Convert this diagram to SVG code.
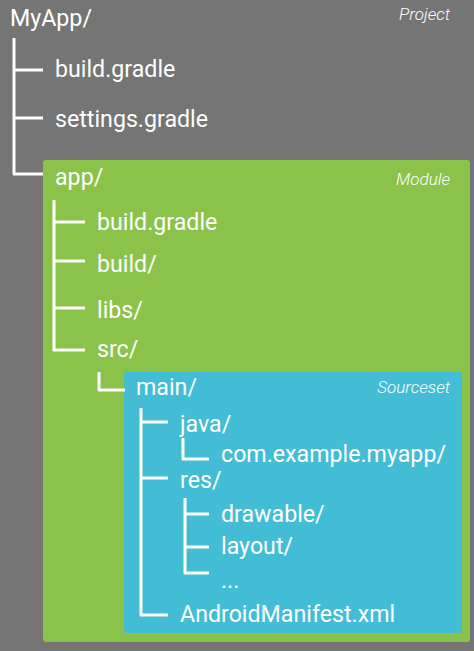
<svg xmlns="http://www.w3.org/2000/svg" width="474" height="651" viewBox="0 0 474 651">
<style>
.t{font-family:Roboto,"Liberation Sans",sans-serif;font-size:23.2px;fill:#fff}
.lbl{font-family:Roboto,"Liberation Sans",sans-serif;font-size:17px;font-style:italic;font-weight:300;fill:#fff;text-anchor:end}
.c{fill:none;stroke:#fff;stroke-width:3;stroke-linejoin:round;stroke-linecap:butt}
</style>
<rect id="bg" x="0" y="0" width="474" height="651" fill="#757575"/>
<g id="module-box"><rect x="43" y="160" width="427" height="482" rx="3" fill="#8BC34A"/></g>
<g id="sourceset-box"><rect x="124" y="372" width="338" height="261" rx="3" fill="#42BDD5"/></g>
<g id="connectors">
<path class="c" d="M14 38V174H43M14 70H43M14 118H43"/>
<path class="c" d="M54 200V350H85M54 222H85M54 261H85M54 308H85"/>
<path class="c" d="M99 372V390H125"/>
<path class="c" d="M141 408V615H168M141 422H168M141 478H168"/>
<path class="c" d="M183 438V459H209"/>
<path class="c" d="M185 498V573H209M185 514H209M185 547H209"/>
</g>
<g id="n-myapp"><text class="t" x="10" y="26">MyApp/</text><text class="lbl" x="450" y="20">Project</text></g>
<g id="n-build-gradle"><text class="t" x="55" y="77">build.gradle</text></g>
<g id="n-settings"><text class="t" x="55" y="127">settings.gradle</text></g>
<g id="n-app"><text class="t" x="55" y="185">app/</text><text class="lbl" x="450" y="185">Module</text></g>
<g id="n-app-build-gradle"><text class="t" x="97" y="230">build.gradle</text></g>
<g id="n-build"><text class="t" x="97" y="272">build/</text></g>
<g id="n-libs"><text class="t" x="97" y="318">libs/</text></g>
<g id="n-src"><text class="t" x="97" y="357">src/</text></g>
<g id="n-main"><text class="t" x="136" y="395">main/</text><text class="lbl" x="450" y="393">Sourceset</text></g>
<g id="n-java"><text class="t" x="180" y="432">java/</text></g>
<g id="n-pkg"><text class="t" x="221" y="462">com.example.myapp/</text></g>
<g id="n-res"><text class="t" x="180" y="488">res/</text></g>
<g id="n-drawable"><text class="t" x="221" y="522">drawable/</text></g>
<g id="n-layout"><text class="t" x="221" y="554">layout/</text></g>
<g id="n-more"><text class="t" x="221" y="588">...</text></g>
<g id="n-manifest"><text class="t" x="180" y="622">AndroidManifest.xml</text></g>
</svg>
